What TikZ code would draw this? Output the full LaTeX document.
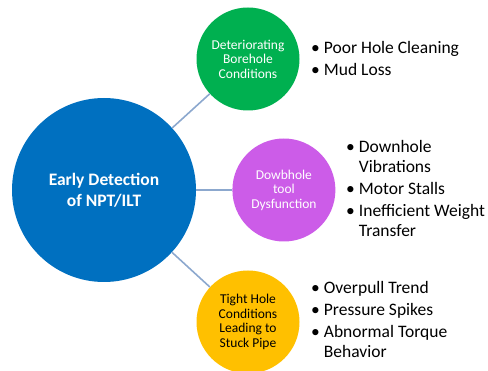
\documentclass[tikz,border=0pt]{standalone}
\usepackage{fontspec}
\setmainfont{Carlito}
\usepackage{tikz}
\usetikzlibrary{positioning}

\definecolor{mainblue}{RGB}{0,112,192}
\definecolor{boreholegreen}{RGB}{0,176,80}
\definecolor{toolpurple}{RGB}{204,92,232}
\definecolor{pipeyellow}{RGB}{255,192,0}
\definecolor{linkblue}{RGB}{140,168,206}

\tikzset{
  bigdisc/.style={circle,fill=mainblue,minimum size=184pt,inner sep=0pt,
    text=white,align=center,font=\fontsize{17.5}{21}\selectfont\bfseries},
  smalldisc/.style={circle,minimum size=103pt,inner sep=0pt,align=center,
    font=\fontsize{13.5}{14.5}\selectfont},
  bullets/.style={anchor=base west,inner sep=0pt,font=\fontsize{17.5}{20}\selectfont},
  link/.style={draw=linkblue,line width=1.6pt}
}

\begin{document}
\begin{tikzpicture}[x=1pt,y=-1pt]
			\useasboundingbox (0,0) rectangle (488,371);
			\begin{scope}
			\clip (0,0) rectangle (488,371);
			\node (NPT) [bigdisc] at (104,190) {Early Detection\\of NPT/ILT};
			\node (Borehole) [smalldisc,fill=boreholegreen,text=white] at (248,59) {Deteriorating\\Borehole\\Conditions};
			\node (Tool) [smalldisc,fill=toolpurple,text=white,right=36pt of NPT] {Dowbhole\\tool\\Dysfunction};
			\node (Stuck) [smalldisc,fill=pipeyellow,text=black] at (248,322) {Tight Hole\\Conditions\\Leading to\\Stuck Pipe};
			\end{scope}

			\draw [link] (NPT) -- (Borehole);
			\draw [link] (NPT) -- (Tool);
			\draw [link] (NPT) -- (Stuck);

			\node (BoreholeList) [bullets] at (311,54) {\begin{tabular}[t]{@{}l@{\hspace{4pt}}l@{}}
				\textbullet & Poor Hole Cleaning\\[2pt]
				\textbullet & Mud Loss
			\end{tabular}};
			\node (ToolList) [bullets] at (346,153) {\begin{tabular}[t]{@{}l@{\hspace{4pt}}l@{}}
				\textbullet & Downhole\\
				 & Vibrations\\[2pt]
				\textbullet & Motor Stalls\\[2pt]
				\textbullet & Inefficient Weight\\
				 & Transfer
			\end{tabular}};
			\node (StuckList) [bullets] at (311,294) {\begin{tabular}[t]{@{}l@{\hspace{4pt}}l@{}}
				\textbullet & Overpull Trend\\[2pt]
				\textbullet & Pressure Spikes\\[2pt]
				\textbullet & Abnormal Torque\\
				 & Behavior
			\end{tabular}};
		\end{tikzpicture}
\end{document}
